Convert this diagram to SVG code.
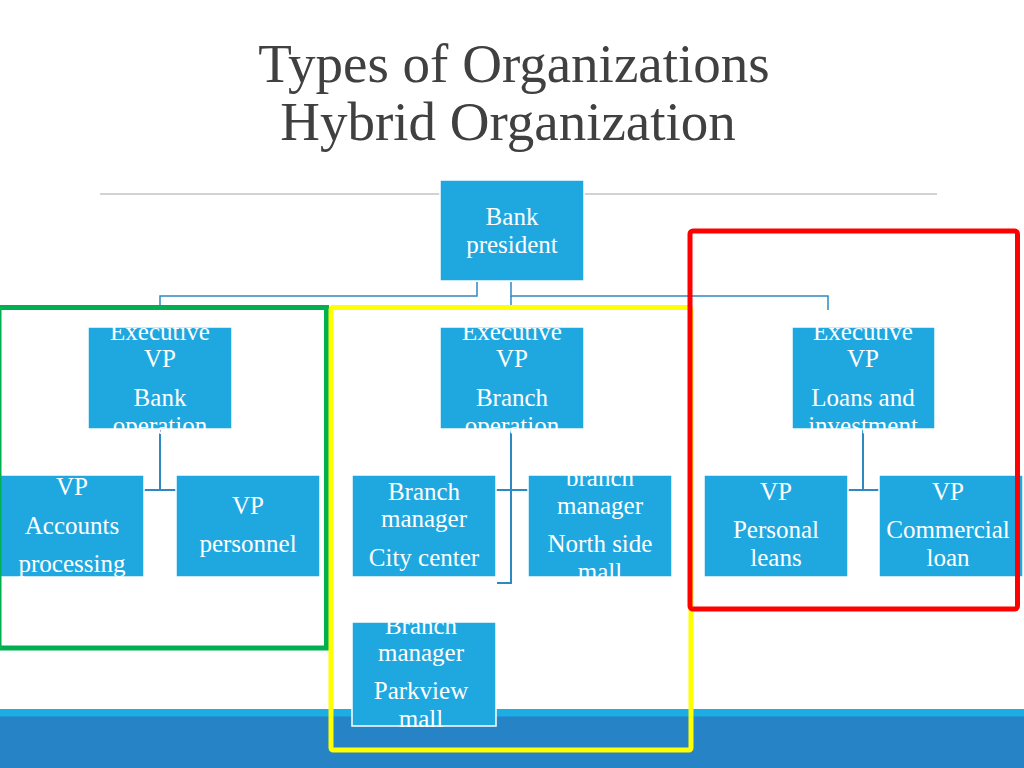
<svg xmlns="http://www.w3.org/2000/svg" width="1024" height="768" viewBox="0 0 1024 768">
<style>
.title{font-family:"Liberation Serif","Times New Roman",serif;font-size:55px;fill:#404040;text-anchor:middle}
.box{fill:#1FA8E0;stroke:#FFFFFF;stroke-width:1.5}
.lbl{font-family:"Liberation Serif","Times New Roman",serif;font-size:25px;fill:#FFFFFF;text-anchor:middle}
.conn{fill:none;stroke:#2E88C2;stroke-width:1.5}
.conn2{fill:none;stroke:#2E88C2;stroke-width:2}
.hl{fill:none;stroke-width:5}
</style>
<rect x="0" y="0" width="1024" height="768" fill="#FFFFFF"/>
<g id="band">
<rect x="0" y="709" width="1024" height="8" fill="#1CADE4"/>
<rect x="0" y="716.5" width="1024" height="52" fill="#2683C6"/>
</g>
<g id="title">
<text class="title" x="514" y="82">Types of Organizations</text>
<text class="title" x="508" y="140">Hybrid Organization</text>
</g>
<line x1="100" y1="194" x2="937" y2="194" stroke="#A6A6A6" stroke-width="1"/>
<g id="connectors">
<polyline class="conn" points="477,282 477,296 160,296 160,306"/>
<polyline class="conn" points="511,282 511,296 828,296 828,310"/>
<line class="conn" x1="511" y1="296" x2="511" y2="310"/>
<line class="conn2" x1="160" y1="429" x2="160" y2="490"/>
<line class="conn2" x1="144" y1="490" x2="176" y2="490"/>
<polyline class="conn2" points="511,429 511,583 497,583"/>
<line class="conn2" x1="496" y1="490" x2="528" y2="490"/>
<line class="conn2" x1="863" y1="429" x2="863" y2="490"/>
<line class="conn2" x1="848" y1="490" x2="879" y2="490"/>
</g>
<g id="bank-president">
<rect class="box" x="440" y="180" width="144" height="101"/>
<text class="lbl" x="512" y="225">Bank</text>
<text class="lbl" x="512" y="253">president</text>
</g>
<g id="evp-bank-operation">
<rect class="box" x="88" y="327" width="144" height="102"/>
<text class="lbl" x="160" y="340">Executive</text>
<text class="lbl" x="160" y="367">VP</text>
<text class="lbl" x="160" y="406">Bank</text>
<text class="lbl" x="160" y="434">operation</text>
</g>
<g id="evp-branch-operation">
<rect class="box" x="440" y="327" width="144" height="102"/>
<text class="lbl" x="512" y="340">Executive</text>
<text class="lbl" x="512" y="367">VP</text>
<text class="lbl" x="512" y="406">Branch</text>
<text class="lbl" x="512" y="434">operation</text>
</g>
<g id="evp-loans">
<rect class="box" x="792" y="327" width="143" height="102"/>
<text class="lbl" x="863" y="340">Executive</text>
<text class="lbl" x="863" y="367">VP</text>
<text class="lbl" x="863" y="406">Loans and</text>
<text class="lbl" x="863" y="434">investment</text>
</g>
<g id="vp-accounts">
<rect class="box" x="0" y="475" width="144" height="102"/>
<text class="lbl" x="72" y="495">VP</text>
<text class="lbl" x="72" y="534">Accounts</text>
<text class="lbl" x="72" y="572">processing</text>
</g>
<g id="vp-personnel">
<rect class="box" x="176" y="475" width="144" height="102"/>
<text class="lbl" x="248" y="514">VP</text>
<text class="lbl" x="248" y="552">personnel</text>
</g>
<g id="bm-city-center">
<rect class="box" x="352" y="475" width="144" height="102"/>
<text class="lbl" x="424" y="500">Branch</text>
<text class="lbl" x="424" y="527">manager</text>
<text class="lbl" x="424" y="566">City center</text>
</g>
<g id="bm-north-side">
<rect class="box" x="528" y="475" width="144" height="102"/>
<text class="lbl" x="600" y="486">branch</text>
<text class="lbl" x="600" y="514">manager</text>
<text class="lbl" x="600" y="552">North side</text>
<text class="lbl" x="600" y="580">mall</text>
</g>
<g id="vp-personal-leans">
<rect class="box" x="704" y="475" width="144" height="102"/>
<text class="lbl" x="776" y="500">VP</text>
<text class="lbl" x="776" y="538">Personal</text>
<text class="lbl" x="776" y="566">leans</text>
</g>
<g id="vp-commercial-loan">
<rect class="box" x="879" y="475" width="144" height="102"/>
<text class="lbl" x="948" y="500">VP</text>
<text class="lbl" x="948" y="538">Commercial</text>
<text class="lbl" x="948" y="566">loan</text>
</g>
<g id="bm-parkview">
<rect class="box" x="352" y="622" width="144" height="104"/>
<text class="lbl" x="421" y="634">Branch</text>
<text class="lbl" x="421" y="661">manager</text>
<text class="lbl" x="421" y="699">Parkview</text>
<text class="lbl" x="421" y="727">mall</text>
</g>
<g id="highlights">
<rect class="hl" x="-1" y="307.5" width="327.5" height="340.5" stroke="#00B050"/>
<rect class="hl" x="331" y="307.5" width="360" height="442.5" rx="2" stroke="#FFFF00"/>
<rect class="hl" x="690" y="231" width="327.5" height="378" rx="3" stroke="#FF0000"/>
</g>
</svg>
